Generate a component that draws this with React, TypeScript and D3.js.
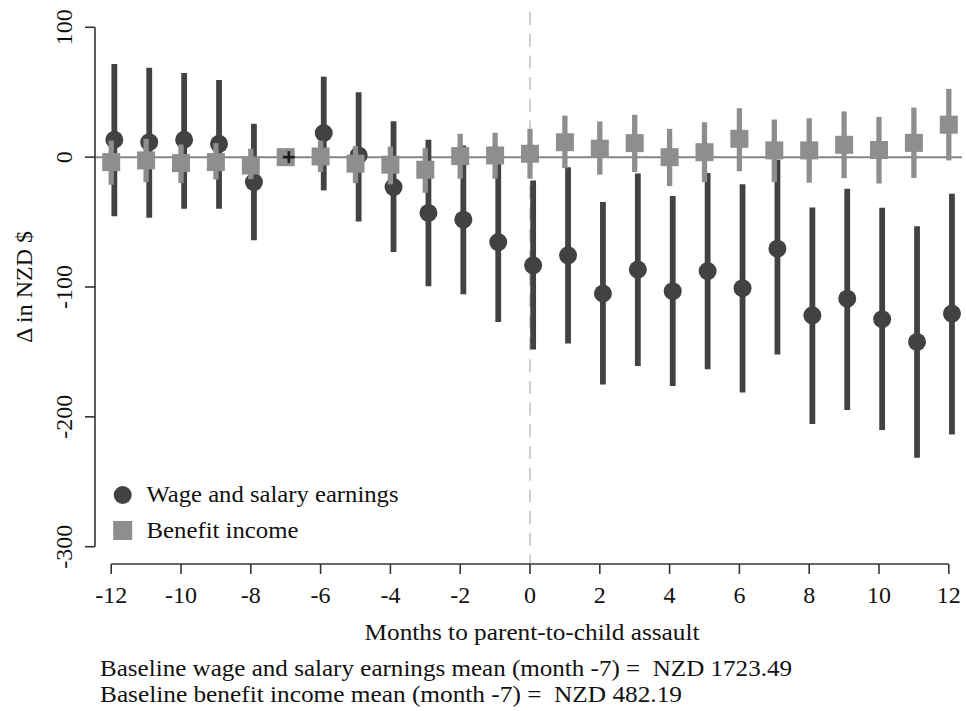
import React from "react";
import * as d3 from "d3";

// Event-study estimates: change in monthly income around a parent-to-child assault
const months = [-12, -11, -10, -9, -8, -7, -6, -5, -4, -3, -2, -1, 0, 1, 2, 3, 4, 5, 6, 7, 8, 9, 10, 11, 12];
const baseMonth = -7;

const wage = [13.4, 11.5, 13.4, 10.3, -19.2, 0, 18.6, 1.3, -23, -43, -48.2, -65.4, -83.3, -75.6, -105, -86.6, -103.2, -87.7, -100.9, -70.5, -121.8, -109, -124.8, -142.3, -120.5];
const wageLo = [-45.6, -46.6, -39.7, -39.7, -64, 0, -25.6, -49.5, -73, -99.5, -105.6, -126.9, -148.2, -143.5, -175.1, -160.9, -176.2, -163.3, -181.3, -152, -205.6, -194.8, -210.2, -231.5, -213.5];
const wageHi = [71.8, 68.8, 64.9, 59.5, 25.7, 0, 62, 50, 27.7, 13.4, 9, -3.9, -17.9, -7.7, -34.6, -12.5, -30, -12.3, -20.8, -2, -38.7, -24.3, -39, -53.3, -28.2];

const benefit = [-3.8, -2.5, -4.6, -3.8, -6.4, 0, 0.5, -5, -5.8, -9.7, 0.8, 1.3, 2.6, 11.5, 6.5, 10.8, 0, 3.8, 14.1, 5.2, 5.2, 9.5, 5.5, 11, 25];
const benefitLo = [-21.2, -19.2, -20, -17.2, -17, 0, -11.5, -20, -21, -27.4, -16.6, -16.6, -16.6, -8.5, -13.5, -11.5, -22.3, -19.2, -10.8, -19.2, -19.7, -16.2, -20.3, -16, -2.5];
const benefitHi = [12.8, 14.1, 9.8, 10.8, 6.5, 0, 12.8, 8.5, 8.2, 6.9, 18, 18.8, 21.8, 32, 27.5, 32.6, 21.8, 26.9, 37.7, 29, 30, 35.2, 31, 38.2, 52.6];

const xTicks = [-12, -10, -8, -6, -4, -2, 0, 2, 4, 6, 8, 10, 12];
const yTicks = [100, 0, -100, -200, -300];

const seriesNames = ["Wage and salary earnings", "Benefit income"];
const xTitle = "Months to parent-to-child assault";
const yTitle = "Δ in NZD $";
const notes = [
  "Baseline wage and salary earnings mean (month -7) = \u00A0NZD 1723.49",
  "Baseline benefit income mean (month -7) = \u00A0NZD 482.19",
];

const W = 966;
const H = 711;
const DARK = "#424242";
const GREY = "#8e8e8e";
const INK = "#111";

export default function App() {
  const x = d3.scaleLinear().domain([-12, 12]).range([111.2, 948.8]);
  const y = d3.scaleLinear().domain([-300, 100]).range([546.7, 27.3]);
  const wageShift = 0.09; // wage estimates sit just right of the benefit ones
  const xw = (m: number) => x(m + wageShift);

  return (
    <svg className="evchart" width={W} height={H} style={{ position: "absolute", left: 0, top: 0 }}>
      <style>{`.evchart text { font-family: "Liberation Serif", Tinos, "Times New Roman", serif !important; font-size: 24px; fill: ${INK}; }`}</style>
      <rect x={0} y={0} width={W} height={H} fill="#fff" />

      {/* reference lines */}
      <line x1={x(0)} x2={x(0)} y1={12} y2={563} stroke="#c4c4c4" strokeWidth={1.6} strokeDasharray="13 8.7" />
      <line x1={95} x2={962} y1={y(0)} y2={y(0)} stroke="#858585" strokeWidth={2} />

      {/* wage CIs and points */}
      {months.map((m, i) =>
        m === baseMonth ? null : (
          <line key={`wci${m}`} x1={xw(m)} x2={xw(m)} y1={y(wageHi[i])} y2={y(wageLo[i])} stroke={DARK} strokeWidth={5.8} />
        )
      )}
      {months.map((m, i) =>
        m === baseMonth ? null : <circle key={`wp${m}`} cx={xw(m)} cy={y(wage[i])} r={9} fill={DARK} />
      )}

      {/* benefit CIs and points */}
      {months.map((m, i) =>
        m === baseMonth ? null : (
          <line key={`bci${m}`} x1={x(m)} x2={x(m)} y1={y(benefitHi[i])} y2={y(benefitLo[i])} stroke={GREY} strokeWidth={5.3} />
        )
      )}
      {months.map((m, i) => (
        <rect key={`bp${m}`} x={x(m) - 9} y={y(benefit[i]) - 9} width={18} height={18} fill={GREY} />
      ))}

      {/* base month wage marker */}
      {months.map((m, i) =>
        m === baseMonth ? (
          <g key="base" stroke="#1e1e1e" strokeWidth={2.6}>
            <line x1={xw(m) - 6} x2={xw(m) + 6} y1={y(wage[i])} y2={y(wage[i])} />
            <line x1={xw(m)} x2={xw(m)} y1={y(wage[i]) - 6} y2={y(wage[i]) + 6} />
          </g>
        ) : null
      )}

      {/* y axis */}
      <line x1={95} x2={95} y1={y(100)} y2={y(-300)} stroke="#333" strokeWidth={1.6} />
      {yTicks.map((t) => (
        <g key={`yt${t}`}>
          <line x1={85} x2={95} y1={y(t)} y2={y(t)} stroke="#333" strokeWidth={1.6} />
          <text transform={`translate(72,${y(t)}) rotate(-90)`} textAnchor="middle" fontFamily="Liberation Serif">
            {t}
          </text>
        </g>
      ))}
      <text transform="translate(32,287) rotate(-90)" textAnchor="middle" fontFamily="Liberation Serif">
        {yTitle}
      </text>

      {/* x axis */}
      <line x1={x(-12)} x2={x(12)} y1={564} y2={564} stroke="#333" strokeWidth={1.6} />
      {xTicks.map((t) => (
        <g key={`xt${t}`}>
          <line x1={x(t)} x2={x(t)} y1={564} y2={574} stroke="#333" strokeWidth={1.6} />
          <text x={x(t)} y={603} textAnchor="middle" fontFamily="Liberation Serif">
            {t}
          </text>
        </g>
      ))}
      <text x={532} y={640} textAnchor="middle" fontFamily="Liberation Serif" textLength={335} lengthAdjust="spacingAndGlyphs">
        {xTitle}
      </text>

      {/* legend */}
      <circle cx={122.7} cy={495} r={9} fill={DARK} />
      <rect x={113.2} y={521} width={19} height={19} fill={GREY} />
      <text x={146.5} y={502} fontFamily="Liberation Serif" textLength={252} lengthAdjust="spacingAndGlyphs">
        {seriesNames[0]}
      </text>
      <text x={146.5} y={538} fontFamily="Liberation Serif" textLength={152} lengthAdjust="spacingAndGlyphs">
        {seriesNames[1]}
      </text>

      {/* notes */}
      <text x={100} y={676} fontFamily="Liberation Serif" textLength={692} lengthAdjust="spacingAndGlyphs">
        {notes[0]}
      </text>
      <text x={100} y={702} fontFamily="Liberation Serif" textLength={582} lengthAdjust="spacingAndGlyphs">
        {notes[1]}
      </text>
    </svg>
  );
}
